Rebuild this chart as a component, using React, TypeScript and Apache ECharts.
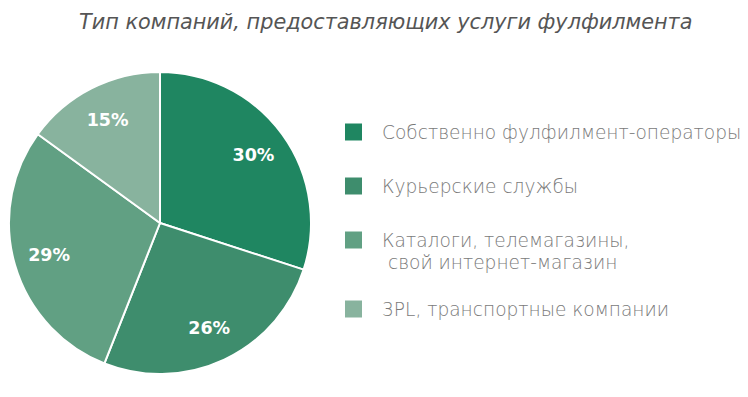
import React, { useEffect, useRef } from "react";
import * as echarts from "echarts";

const titleText = "Тип компаний, предоставляющих услуги фулфилмента";
const categories = [
  "Собственно фулфилмент-операторы",
  "Курьерские службы",
  "Каталоги, телемагазины,\n свой интернет-магазин",
  "3PL, транспортные компании",
];
const values = [30, 26, 29, 15];
const colors = ["#1f8661", "#3e8d6d", "#61a083", "#88b39e"];
const legendTops = [132, 186, 240, 309];

export default function App() {
  const ref = useRef<HTMLDivElement>(null);
  useEffect(() => {
    document.body.style.margin = "0";
    const chart = echarts.init(ref.current!, null, { renderer: "svg" });
    const data = categories.map((c, i) => ({ name: c, value: values[i], itemStyle: { color: colors[i] } }));
    const legendGraphics: any[] = [];
    categories.forEach((c, i) => {
      legendGraphics.push({
        type: "rect",
        left: 345,
        top: legendTops[i] - 8.5,
        shape: { width: 17, height: 17 },
        style: { fill: colors[i] },
      });
      legendGraphics.push({
        type: "text",
        left: 382,
        top: legendTops[i] - 11,
        style: {
          text: c,
          fill: "#7a7a7a",
          font: "200 18.6px 'DejaVu Sans', sans-serif",
          lineHeight: 22,
        },
      });
    });
    chart.setOption({
      animation: false,
      title: {
        text: titleText,
        left: 74,
        top: 6,
        textStyle: {
          color: "#555555",
          fontStyle: "italic",
          fontWeight: 200,
          fontSize: 20.8,
          fontFamily: "'DejaVu Sans', sans-serif",
        },
      },
      graphic: legendGraphics,
      series: [
        {
          type: "pie",
          center: [160, 223],
          radius: [0, 151],
          startAngle: 90,
          clockwise: true,
          silent: true,
          label: { show: false },
          labelLine: { show: false },
          itemStyle: { borderColor: "#ffffff", borderWidth: 2 },
          data,
        },
        {
          type: "pie",
          center: [160, 223],
          radius: [74, 151],
          startAngle: 90,
          clockwise: true,
          silent: true,
          itemStyle: { color: "transparent", borderWidth: 0 },
          label: {
            show: true,
            position: "inside",
            formatter: "{c}%",
            color: "#ffffff",
            fontSize: 17.5,
            fontWeight: "bold",
            fontFamily: "'DejaVu Sans', sans-serif",
          },
          labelLine: { show: false },
          data: categories.map((c, i) => ({ name: c, value: values[i] })),
        },
      ],
    });
    return () => chart.dispose();
  }, []);
  return <div ref={ref} style={{ width: 748, height: 397 }} />;
}
